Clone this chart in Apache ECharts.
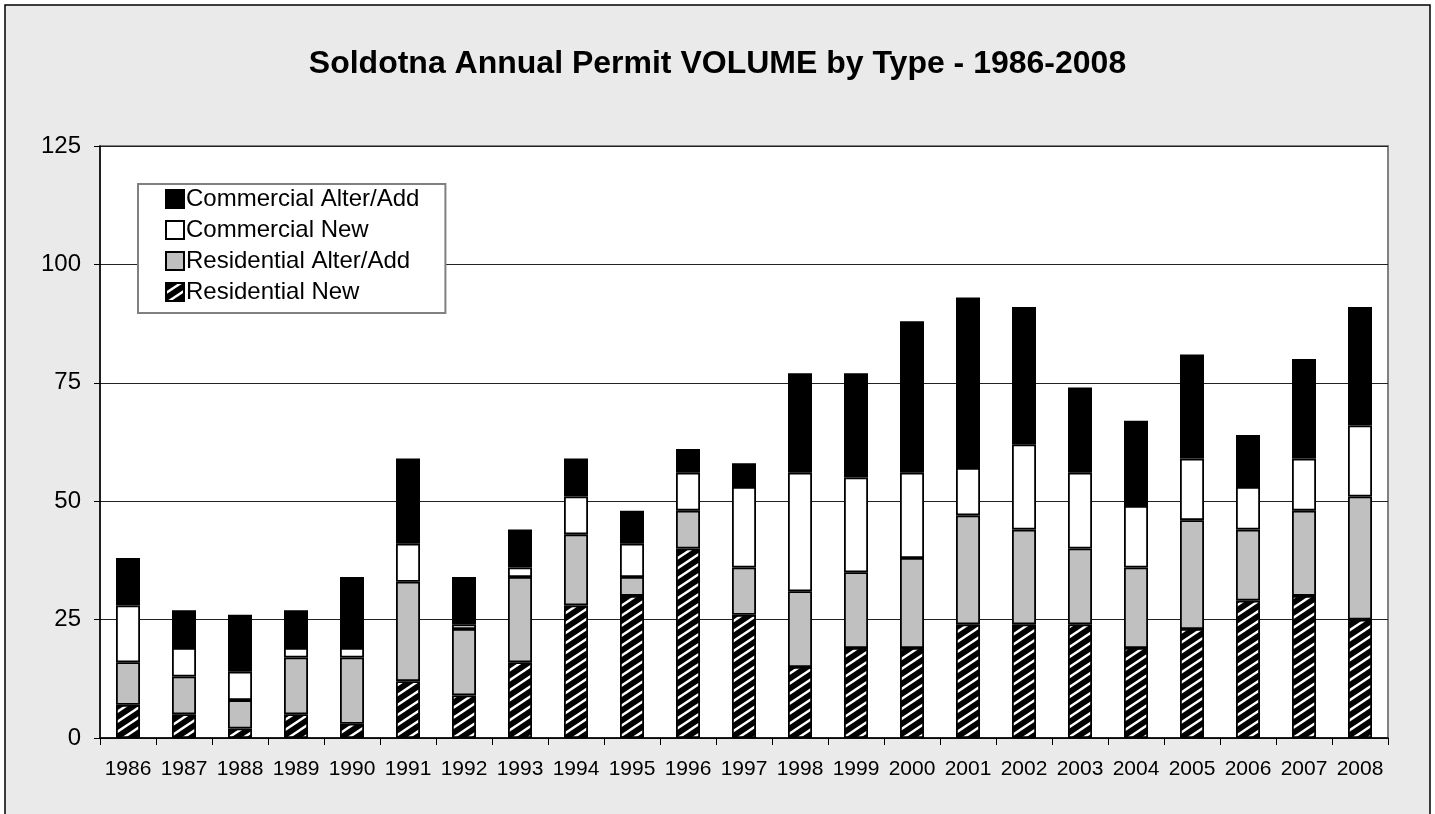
<!DOCTYPE html>
<html>
<head>
<meta charset="utf-8">
<script src="https://cdn.jsdelivr.net/npm/echarts@6/dist/echarts.min.js"></script>
<style>
html,body{margin:0;padding:0;background:#fff;}
#c{width:1435px;height:814px;}
</style>
</head>
<body>
<div id="c"></div>
<script>
var years = ['1986','1987','1988','1989','1990','1991','1992','1993','1994','1995','1996','1997','1998','1999','2000','2001','2002','2003','2004','2005','2006','2007','2008'];
var residentialNew      = [7, 5, 2, 5, 3, 12, 9, 16, 28, 30, 40, 26, 15, 19, 19, 24, 24, 24, 19, 23, 29, 30, 25];
var residentialAlterAdd = [9, 8, 6, 12, 14, 21, 14, 18, 15, 4, 8, 10, 16, 16, 19, 23, 20, 16, 17, 23, 15, 18, 26];
var commercialNew       = [12, 6, 6, 2, 2, 8, 1, 2, 8, 7, 8, 17, 25, 20, 18, 10, 18, 16, 13, 13, 9, 11, 15];
var commercialAlterAdd  = [10, 8, 12, 8, 15, 18, 10, 8, 8, 7, 5, 5, 21, 22, 32, 36, 29, 18, 18, 22, 11, 21, 25];
var yTicks = [0, 25, 50, 75, 100, 125];

var FONT = '"Liberation Sans", Arial, sans-serif';

function stripePattern(){
  var w = 15, h = 10;
  var cv = document.createElement('canvas');
  cv.width = w; cv.height = h;
  var g = cv.getContext('2d');
  g.fillStyle = '#000';
  g.fillRect(0,0,w,h);
  g.strokeStyle = '#fff';
  g.lineWidth = 2.4;
  for (var k = -1; k <= 1; k++) {
    g.beginPath();
    g.moveTo(k*w - 1.5, h + 1);
    g.lineTo(k*w + w + 1.5, -1);
    g.stroke();
  }
  return cv;
}

var chart = echarts.init(document.getElementById('c'), null, {renderer:'canvas'});
var pattern = {image: stripePattern(), repeat: 'repeat'};

function mk(name, data, color){
  return {
    name: name, type: 'bar', stack: 'total', data: data,
    barWidth: 24,
    itemStyle: {color: color, borderColor: '#000', borderWidth: 1.8},
    emphasis: {disabled: true}
  };
}

chart.setOption({
  animation: false,
  backgroundColor: '#fff',
  graphic: [{
    type: 'rect', z: -10,
    shape: {x: 5, y: 5, width: 1425, height: 830},
    style: {fill: '#EAEAEA', stroke: '#000', lineWidth: 1.5}
  }],
  title: {
    text: 'Soldotna Annual Permit VOLUME by Type - 1986-2008',
    left: 'center', top: 43,
    textStyle: {fontFamily: FONT, fontSize: 32, fontWeight: 'bold', color: '#000'}
  },
  legend: {
    orient: 'vertical',
    left: 138, top: 184,
    backgroundColor: '#fff',
    borderColor: '#808080', borderWidth: 2,
    padding: [3, 26, 9, 27],
    itemGap: 7,
    itemWidth: 18, itemHeight: 18,
    icon: 'rect',
    selectedMode: false,
    data: ['Commercial Alter/Add', 'Commercial New', 'Residential Alter/Add', 'Residential New'],
    textStyle: {fontFamily: FONT, fontSize: 24, lineHeight: 24, color: '#000', padding: [0,0,0,-3]}
  },
  grid: {
    left: 100, right: 47, top: 146, bottom: 76,
    show: true, backgroundColor: '#fff', borderColor: '#808080', borderWidth: 2
  },
  xAxis: {
    type: 'category', data: years,
    axisLine: {lineStyle: {color: '#000', width: 1.5}},
    axisTick: {show: true, alignWithLabel: false, length: 7, lineStyle: {color: '#000'}},
    axisLabel: {fontFamily: FONT, fontSize: 21, color: '#000', margin: 21, interval: 0},
    splitLine: {show: false}
  },
  yAxis: {
    type: 'value', min: 0, max: 125, interval: 25,
    axisLine: {show: true, lineStyle: {color: '#000', width: 1.5}},
    axisTick: {show: true, length: 6, lineStyle: {color: '#000'}},
    axisLabel: {fontFamily: FONT, fontSize: 24, color: '#000', margin: 19,
      formatter: function(v){ return yTicks.indexOf(v) >= 0 ? String(v) : ''; }},
    splitLine: {show: true, lineStyle: {color: '#222', width: 1}}
  },
  series: [
    mk('Residential New', residentialNew, pattern),
    mk('Residential Alter/Add', residentialAlterAdd, '#C0C0C0'),
    mk('Commercial New', commercialNew, '#fff'),
    mk('Commercial Alter/Add', commercialAlterAdd, '#000')
  ]
});
</script>
</body>
</html>
